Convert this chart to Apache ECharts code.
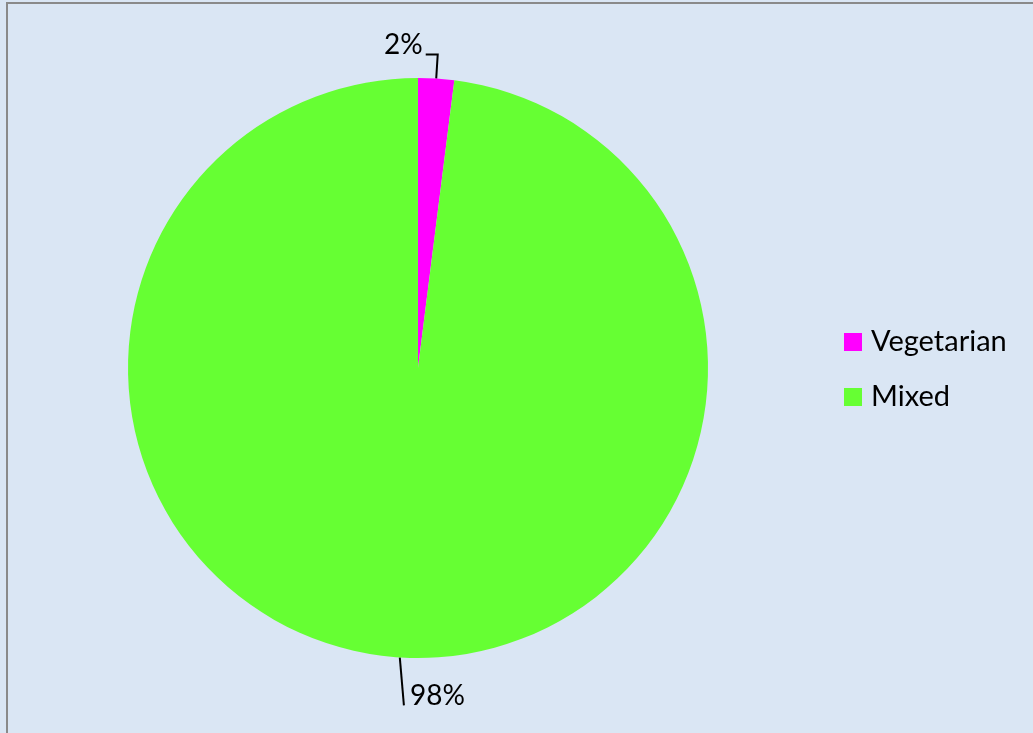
<!DOCTYPE html>
<html>
<head>
<meta charset="utf-8">
<script src="https://cdn.jsdelivr.net/npm/echarts@6/dist/echarts.min.js"></script>
<style>
  html, body { margin: 0; padding: 0; background: #dae6f4; }
  #chart { width: 1033px; height: 733px; }
</style>
</head>
<body>
<div id="chart"></div>
<script>
// Diet types and their shares (percent)
const categories = ['Vegetarian', 'Mixed'];
const values = [2, 98];
const colors = ['#ff00ff', '#66ff33'];

const FONT = 'Lato, Carlito, Calibri, sans-serif';

const chart = echarts.init(document.getElementById('chart'), null, { renderer: 'canvas' });

const option = {
  backgroundColor: '#dae6f4',
  animation: false,
  graphic: [{
    type: 'rect',
    shape: { x: 7, y: 3, width: 1200, height: 900 },
    style: { fill: 'none', stroke: '#8a8a8a', lineWidth: 2 },
    silent: true,
    z: 100
  }],
  legend: {
    orient: 'vertical',
    left: 839,
    top: 322,
    itemWidth: 18,
    itemHeight: 18,
    itemGap: 25,
    icon: 'rect',
    textStyle: {
      fontFamily: FONT,
      fontSize: 29,
      lineHeight: 30,
      color: '#000',
      padding: [0, 0, 0, 4]
    },
    data: categories
  },
  series: [{
    type: 'pie',
    center: [418, 368],
    radius: 290,
    startAngle: 90,
    clockwise: true,
    avoidLabelOverlap: false,
    label: {
      show: true,
      position: 'outside',
      formatter: '{d}%',
      fontFamily: FONT,
      fontSize: 28,
      color: '#000'
    },
    labelLine: {
      show: true,
      lineStyle: { color: '#000', width: 2 }
    },
    labelLayout: function (p) {
      const pts = p.labelLinePoints;
      if (!pts) return {};
      if (p.dataIndex === 0) {
        // Short elbow: radial up, then horizontal towards the left-hand label
        const p1 = pts[1];
        const p2 = [p1[0] - 12, p1[1]];
        return {
          x: p2[0] - 3,
          y: p2[1] + 4,
          align: 'right',
          verticalAlign: 'bottom',
          labelLinePoints: [pts[0], p1, p2]
        };
      }
      // Long single stroke below the pie, label to its right
      const p1 = pts[1];
      const end = [p1[0] + 7, p1[1] + 2];
      return {
        x: end[0] + 6,
        y: end[1] - 9,
        align: 'left',
        verticalAlign: 'middle',
        labelLinePoints: [pts[0], end, end]
      };
    },
    emphasis: { disabled: true },
    data: categories.map((name, i) => ({
      name: name,
      value: values[i],
      itemStyle: { color: colors[i] },
      labelLine: i === 0 ? { length: 24, length2: 12 } : { length: 46, length2: 0 }
    }))
  }]
};

chart.setOption(option);
</script>
</body>
</html>
